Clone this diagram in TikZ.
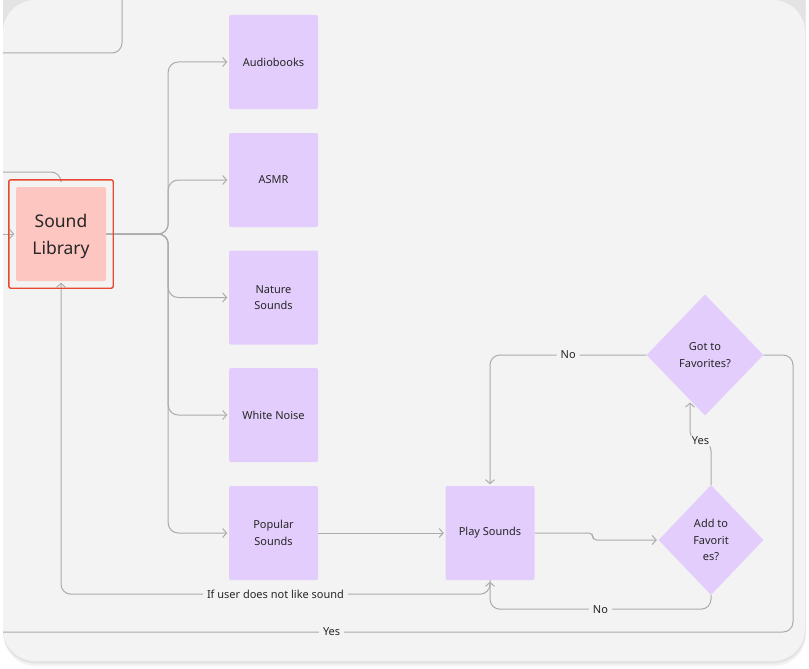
\documentclass[tikz,border=0pt]{standalone}
\usepackage{fontspec}
\setmainfont{Noto Sans}
\usetikzlibrary{positioning,shapes.geometric,arrows.meta,fit,backgrounds}
\definecolor{panelgray}{HTML}{F3F3F3}
\definecolor{linegray}{HTML}{ABABAB}
\definecolor{lavender}{HTML}{E3CDFC}
\definecolor{libpink}{HTML}{FDC6C1}
\definecolor{selred}{HTML}{E8482D}
\definecolor{inkgray}{HTML}{262626}

\begin{document}
\begin{tikzpicture}[x=1pt, y=-1pt]
    % Define styles
    \tikzset{
        soundbox/.style={fill=lavender, rounded corners=2pt, minimum width=89pt, minimum height=94pt, inner sep=0pt, align=center, text=inkgray, font=\fontsize{11}{16.5}\selectfont},
        libbox/.style={fill=libpink, rounded corners=1.5pt, minimum width=90pt, minimum height=94pt, inner sep=0pt, align=center, text=inkgray, font=\fontsize{17.5}{27}\selectfont},
        selbox/.style={draw=selred, line width=1.4pt, rounded corners=2pt, inner sep=7pt},
        decision/.style={diamond, fill=lavender, inner sep=0pt, align=center, text=inkgray, font=\fontsize{11}{16.5}\selectfont},
        flow/.style={draw=linegray, line width=1pt, rounded corners=10pt},
        arrow/.style={-{Straight Barb[length=4pt, width=9pt]}, shorten >=1.5pt},
        lbl/.style={fill=panelgray, inner sep=4pt, text=inkgray, font=\fontsize{11}{13}\selectfont}
    }
    \useasboundingbox (0,0) rectangle (809,669);

    % Sound library
    \node[libbox, text depth=0pt] (lib) at (61,234) {Sound\\Library};
    \node[selbox, fit=(lib)] (libsel) {};

    % Categories
    \node[soundbox] (audio) at (273.5,62) {Audiobooks};
    \node[soundbox] (asmr) at (273.5,180) {ASMR};
    \node[soundbox] (nature) at (273.5,297.5) {Nature\\Sounds};
    \node[soundbox] (white) at (273.5,415) {White Noise};
    \node[soundbox] (popular) at (273.5,533) {Popular\\Sounds};

    % Player and decisions
    \node[soundbox] (play) at (490,533) {Play Sounds};
    \node[decision, minimum width=105pt, minimum height=110pt] (add) at (711,540) {Add to\\Favorit\\es?};
    \node[decision, minimum width=117pt, minimum height=121pt] (got) at (705,355) {Got to\\Favorites?};

    % Free ends
    \coordinate (topa) at (3,53);
    \coordinate (topb) at (122,0);
    \coordinate (inlefttop) at (3,172);
    \coordinate (inleft) at (3,234);
    \coordinate (gotedge) at (690,401);
    \coordinate (yesturn) at (793,632);
    \coordinate (yesend) at (3,632);

    \begin{scope}[on background layer]
        % Panel with shadow
        \fill[black!5, rounded corners=32pt] (3.5,-40) rectangle (806,666);
        \fill[black!11, rounded corners=32pt] (3.2,-40) rectangle (805.6,663.5);
        \fill[panelgray, rounded corners=32pt] (3,0) rectangle (805,661);

        % Connectors
        \draw[flow] (topa) -| (topb);
        \draw[flow] (inlefttop) -| (libsel.north);
        \draw[flow, arrow] (inleft) -- (lib.west);
        \foreach \n in {audio,asmr,nature,white,popular}
            \draw[flow, arrow] (lib.east) -- ++(62,0) |- (\n.west);
        \draw[flow, arrow] (popular) -- (play);
        \draw[flow, arrow, rounded corners=4pt] (play.east) -- ++(58,0) |- (add.west);
        \draw[flow, arrow] (add.north) -- (711,441) -- node[lbl] {Yes} (690,441) -- (gotedge);
        \draw[flow, arrow] (got.west) -| node[lbl, pos=0.25] {No} (play.north);
        \draw[flow, arrow] (add.south) -- ++(0,14) -| node[lbl, pos=0.25] {No} (play.south);
        \draw[flow, arrow] (play.south) -- ++(0,14) -| node[lbl, pos=0.25] {If user does not like sound} (lib.south);
        \draw[flow] (got.east) -| (yesturn) -- node[lbl, pos=0.584] {Yes} (yesend);
    \end{scope}
\end{tikzpicture}
\end{document}
